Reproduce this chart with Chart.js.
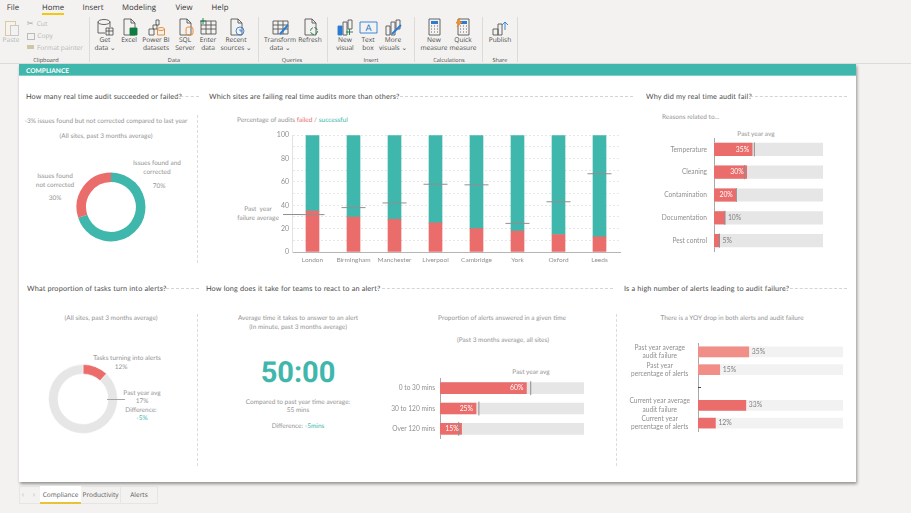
<!DOCTYPE html>
<html>
<head>
<meta charset="utf-8">
<script src="https://cdn.jsdelivr.net/npm/chart.js@4"></script>
<style>
html, body { margin: 0; padding: 0; width: 911px; height: 513px; overflow: hidden; background: #f3f2f1; font-family: Lato, sans-serif; text-rendering: geometricPrecision; }
#page { position: relative; width: 911px; height: 513px; }
#page div, #page canvas, #page svg { position: absolute; }
.t { white-space: nowrap; line-height: 10px; transform: translate(-50%, -50%); color: #949494; font-size: 6.5px; }
.l { transform: translate(0, -50%); }
.head { color: #4d4d4d; font-size: 7.3px; font-weight: 400; letter-spacing: .16px; }
.rib { font-family: "Open Sans", sans-serif; color: #4a4a4a; font-size: 6.6px; }
.tab { font-family: "Open Sans", sans-serif; color: #333; font-size: 7.8px; }
.dash-h { height: 0; border-top: 1px dashed #d4d4d4; }
.dash-v { width: 0; border-left: 1px dashed #dcdcdc; }
</style>
</head>
<body>
<div id="page"></div>
<script>
// chart values
var auditShare = [70, 30]
var siteNames = ['London', 'Birmingham', 'Manchester', 'Liverpool', 'Cambridge', 'York', 'Oxford', 'Leeds']
var siteFailed = [35, 30, 28, 25, 20, 18, 15, 13]
var siteSuccess = [65, 70, 72, 75, 80, 82, 85, 87]
var sitePastYear = [32, 38, 42, 58, 57.5, 24.5, 43, 67]
var siteTicks = [0, 20, 40, 60, 80, 100]

var reasonNames = ['Temperature', 'Cleaning', 'Contamination', 'Documentation', 'Pest control']
var reasonValues = [35, 30, 20, 10, 5]
var reasonPastYear = [37, 28, 20.5, 10, 5]
var reasonTrack = [100, 100, 100, 100, 100]

var alertShare = [12, 88]

var answerNames = ['0 to 30 mins', '30 to 120 mins', 'Over 120 mins']
var answerValues = [60, 25, 15]
var answerPastYear = [63, 27, 13]
var answerTrack = [100, 100, 100]

var yoyNames = [['Past year average', 'audit failure'], ['Past year', 'percentage of alerts'], '', ['Current year average', 'audit failure'], ['Current year', 'percentage of alerts']]
var yoyValues = [35, 15, null, 33, 12]
var yoyTrack = [100, 100, null, 100, 100]

var RED = '#ea6d6c', TEAL = '#40b7ac', TRACK = '#e6e6e6', PALE = '#f08e87', MARK = '#8f8f8f'
var page = document.getElementById('page')

function box(cls, x, y, w, h, css) {
    var d = document.createElement('div')
    d.className = cls || ''
    d.style.cssText = 'left:' + x + 'px;top:' + y + 'px;' + (w ? 'width:' + w + 'px;' : '') + (h ? 'height:' + h + 'px;' : '') + (css || '')
    page.appendChild(d)
    return d
}
function text(str, x, y, cls, css) {
    var d = box('t ' + (cls || ''), x, y, 0, 0, css)
    d.style.width = 'auto'
    d.style.height = 'auto'
    d.innerHTML = str
    return d
}

// report frame
box('', 19, 64, 837, 418, 'background:#fff;box-shadow:1px 2px 3px rgba(0,0,0,.4)')
box('', 0, 63, 911, 1, 'background:#dcdbda')
box('', 19, 64, 837, 12, 'background:#40b7ac;border-bottom:1px solid #7fd0c8;box-sizing:border-box')
text('COMPLIANCE', 26, 70.5, 'l', 'color:#fff;font-weight:700;font-size:6.6px')

// section headings
text('How many real time audit succeeded or failed?', 26, 97, 'l head')
text('Which sites are failing real time audits more than others?', 209, 97, 'l head')
text('Why did my real time audit fail?', 646, 97, 'l head')
text('What proportion of tasks turn into alerts?', 27, 289, 'l head')
text('How long does it take for teams to react to an alert?', 206, 289, 'l head')
text('Is a high number of alerts leading to audit failure?', 624, 289, 'l head')
;[[175, 96, 24], [395, 96, 238], [750, 96, 97], [161, 288, 38], [377, 288, 236], [785, 288, 62]].forEach(function (r) {
    box('dash-h', r[0], r[1], r[2])
})
;[[197, 115, 148], [197, 314, 152], [616, 314, 152]].forEach(function (r) {
    box('dash-v', r[0], r[1], 0, r[2])
})

// captions
var captions = [
    ['-3% issues found but not corrected compared to last year', 106, 122],
    ['(All sites, past 3 months average)', 106, 137],
    ['Issues found and', 157, 164], ['corrected', 157, 172.5], ['70%', 159, 187],
    ['Issues found', 55, 177], ['not corrected', 55, 186], ['30%', 55, 199],
    ['Past&nbsp; year', 258, 210], ['failure average', 258, 218.5],
    ['Past year avg', 756, 135],
    ['(All sites, past 3 months average)', 111, 319],
    ['Tasks turning into alerts', 127, 358.5], ['12%', 121, 368],
    ['Past year avg', 142, 394], ['17%', 142, 402], ['Difference:', 141, 411],
    ['<span style="color:#40b7ac">-5%</span>', 142, 419],
    ['Average time it takes to answer to an alert', 298, 319],
    ['(In minute, past 3 months average)', 298, 327.5],
    ['Compared to past year time average:', 298, 402.5], ['55 mins', 298, 411],
    ['Difference: <span style="color:#40b7ac">-5mins</span>', 298, 427],
    ['Proportion of alerts answered in a given time', 502, 319],
    ['(Past 3 months average, all sites)', 503, 341],
    ['Past year avg', 531, 373],
    ['There is a YOY drop in both alerts and audit failure', 732, 319]
]
captions.forEach(function (c) { text(c[0], c[1], c[2]) })
text('Percentage of audits <span style="color:#ea6d6c">failed</span> / <span style="color:#40b7ac">successful</span>', 237, 121, 'l')
text('Reasons related to…', 662, 118, 'l')
text('50:00', 298, 373, '', 'color:#40b7ac;font-family:Roboto,sans-serif;font-weight:700;font-size:29px;line-height:30px')

// ribbon
var tabs = [['File', 13], ['Home', 53], ['Insert', 93], ['Modeling', 139], ['View', 184], ['Help', 220]]
tabs.forEach(function (t) { text(t[0], t[1], 8, 'tab') })
box('', 42, 13, 22, 2, 'background:#f2c811')

function doc(extra) { return '<path d="M4 1h7l4 4v12H4z"/><path d="M11 1v4h4"/>' + extra }
var sheet = '<path d="M2 3h15v13H2zM2 7h15M2 11h15M7 3v13M12 3v13"/>'
var calc = '<path d="M4 1h11v16H4z"/><path d="M6 3h7v3H6z" fill="#2b7cd3" stroke="none"/><path d="M6 8h1M9 8h1M12 8h1M6 11h1M9 11h1M12 11h1M6 14h1M9 14h1M12 14h1"/>'
var ribbonButtons = [
    [105, ['Get', 'data ⌄'], '<ellipse cx="8" cy="4" rx="6" ry="2.5"/><path d="M2 4v11h7M14 4v5"/><path d="M10 10h7v7h-7zM10 13h7M13 10v7"/>'],
    [129, ['Excel'], doc('<path d="M10 10h7v7h-7z" fill="#107c41" stroke="#107c41"/>')],
    [156, ['Power BI', 'datasets'], '<path d="M2 11h5v6H2zM6 7h4v4H6zM9 2h3v5H9z"/><ellipse cx="14" cy="11" rx="3.5" ry="1.5" stroke="#e8842b"/><path d="M10.500 11v6h7v-6" stroke="#e8842b"/>'],
    [185, ['SQL', 'Server'], doc('<rect x="10" y="9" width="7" height="8" rx="2" stroke="#e8842b"/>')],
    [208, ['Enter', 'data'], sheet + '<path d="M1 3h6M4 0v6" stroke="#107c41"/>'],
    [236, ['Recent', 'sources ⌄'], doc('<circle cx="13" cy="13" r="4" stroke="#2b7cd3"/><path d="M13 11v2h2" stroke="#2b7cd3"/>')],
    [280, ['Transform', 'data ⌄'], sheet + '<path d="M9 16l8-9" stroke="#2b7cd3" stroke-width="2"/>'],
    [310, ['Refresh'], doc('<circle cx="13" cy="13" r="3.500" stroke="#107c41" stroke-dasharray="4 1.500"/>')],
    [345, ['New', 'visual'], '<path d="M2 8h4v9H2z" fill="#2b7cd3" stroke="#2b7cd3"/><path d="M7 4h4v13H7zM12 2h4v9h-4z"/><path d="M10 14h7M13.500 11v6" stroke="#107c41"/>'],
    [368, ['Text', 'box'], '<path d="M1 4h17v11H1z" stroke="#2b7cd3"/><text x="9.500" y="13" font-size="9" text-anchor="middle" fill="#2b7cd3" stroke="none">A</text>'],
    [393, ['More', 'visuals ⌄'], '<path d="M2 8h4v9H2zM7 4h4v13H7zM12 2h4v9h-4z"/><path d="M8 16l9-9" stroke="#2b7cd3" stroke-width="2"/>'],
    [434, ['New', 'measure'], calc],
    [463, ['Quick', 'measure'], calc + '<path d="M6 0L2 5h3l-2 4 5-5H5z" fill="#e8a22b" stroke="#e8842b"/>'],
    [500, ['Publish'], '<path d="M2 11h5v6H2zM7 6h4v11H7z"/><path d="M11 7l3-3 3 3M14 4v8" stroke="#2b7cd3"/>']
]
ribbonButtons.forEach(function (b) {
    var s = document.createElementNS('http://www.w3.org/2000/svg', 'svg')
    s.setAttribute('width', 19)
    s.setAttribute('height', 18)
    s.setAttribute('viewBox', '0 0 19 18')
    s.style.cssText = 'left:' + (b[0] - 9.5) + 'px;top:18px'
    s.innerHTML = '<g fill="none" stroke="#555" stroke-width=".9">' + b[2] + '</g>'
    page.appendChild(s)
    b[1].forEach(function (line, i) { text(line, b[0], 40 + i * 8, 'rib') })
})
text('Paste', 11, 40, 'rib', 'color:#b5b5b5')
box('', 5, 21, 9, 13, 'border:1px solid #d8c9a8;background:#f7f3ea')
box('', 10, 25, 7, 9, 'border:1px solid #c9c9c9;background:#f3f2f1')
text('Cut', 42, 24, 'rib', 'color:#b5b5b5')
text('Copy', 45, 36, 'rib', 'color:#b5b5b5')
text('Format painter', 60, 48, 'rib', 'color:#b5b5b5')
text('✂', 30, 24, 'rib', 'color:#aaa;font-size:8px')
box('', 27, 33, 6, 5, 'border:1px solid #bbb')
box('', 27, 45, 7, 4, 'background:#cfc6a8')
;[89, 258, 327, 414, 482, 517].forEach(function (x) { box('', x, 17, 1, 45, 'background:#dcdbda') })
;[['Clipboard', 46], ['Data', 174], ['Queries', 292], ['Insert', 371], ['Calculations', 449], ['Share', 500]].forEach(function (g) {
    text(g[0], g[1], 60, 'rib', 'font-size:5.6px')
})

// page tabs
box('', 19, 486, 139, 18, 'border:1px solid #e6e5e4;box-sizing:border-box')
box('', 40, 486, 41, 18, 'background:#fff;border-bottom:2px solid #e8c33a;box-sizing:border-box')
box('', 120, 486, 1, 18, 'background:#e6e5e4')
text('‹', 23, 495, 'tab', 'color:#bbb')
text('›', 34, 495, 'tab', 'color:#bbb')
text('Compliance', 60.5, 495, 'tab', 'font-size:6.5px;color:#555')
text('Productivity', 100.5, 495, 'tab', 'font-size:6.5px;color:#555')
text('Alerts', 139, 495, 'tab', 'font-size:6.5px;color:#555')

// puts a canvas on the page so the plot area lands at the given rectangle
function plotCanvas(left, top, right, bottom, marginL, marginB) {
    var c = document.createElement('canvas')
    c.width = right - left + marginL + 6
    c.height = bottom - top + marginB + 6
    c.style.cssText = 'left:' + (left - marginL) + 'px;top:' + (top - 6) + 'px'
    c.getContext('2d').textRendering = 'geometricPrecision'
    page.appendChild(c)
    return c
}

// value text on or next to the red bars
var valueLabels = {
    id: 'valueLabels',
    afterDatasetsDraw: function (chart, args, opts) {
        if (opts.dataset === undefined) return
        var ctx = chart.ctx
        var bars = chart.getDatasetMeta(opts.dataset).data
        var values = chart.data.datasets[opts.dataset].data
        ctx.save()
        ctx.font = '6.8px Lato'
        ctx.textBaseline = 'middle'
        bars.forEach(function (b, i) {
            if (values[i] === null) return
            if (values[i] >= opts.inside) {
                ctx.fillStyle = '#fff'
                ctx.textAlign = 'right'
                ctx.fillText(values[i] + '%', b.x - 3, b.y)
            } else {
                ctx.fillStyle = '#808080'
                ctx.textAlign = 'left'
                ctx.fillText(values[i] + '%', b.x + 3, b.y)
            }
        })
        ctx.restore()
    }
}

function hBarChart(rect, marginL, labels, values, track, past, thickness, trackColor, inside, fillColors, crossAlign, tickPad) {
    var sets = [
        { label: 'Value', data: values, backgroundColor: fillColors || RED, barThickness: thickness, grouped: false, order: 1 },
        { label: 'Track', data: track, backgroundColor: trackColor, barThickness: thickness, grouped: false, order: 2 }
    ]
    if (past) {
        sets.unshift({
            type: 'line', label: 'Past year avg', data: past, showLine: false, order: 0,
            pointStyle: 'line', rotation: 90, pointRadius: rect[4], pointBorderColor: MARK, pointBorderWidth: 1
        })
    }
    return new Chart(plotCanvas(rect[0], rect[1], rect[2], rect[3], marginL, 0), {
        type: 'bar',
        data: { labels: labels, datasets: sets },
        plugins: [valueLabels],
        options: {
            indexAxis: 'y',
            responsive: false,
            animation: false,
            layout: { autoPadding: false, padding: { top: 6, right: 6 } },
            plugins: { legend: { display: false }, tooltip: { enabled: false }, valueLabels: { dataset: past ? 1 : 0, inside: inside } },
            scales: {
                x: { display: false, min: 0, max: 100 },
                y: {
                    offset: true,
                    // the scale keeps label padding that would shrink the plot area
                    afterFit: function (s) { s.width = marginL; s.paddingTop = 0; s.paddingBottom = 0 },
                    border: { color: '#a8a8a8' },
                    grid: { drawOnChartArea: false, drawTicks: false },
                    ticks: { color: '#8f8f8f', font: { family: 'Lato', size: 6.6, lineHeight: 1.25 }, padding: tickPad, crossAlign: crossAlign || 'near', autoSkip: false }
                }
            }
        }
    })
}

// doughnuts
function ring(cx, cy, values, colors, spacing) {
    var c = document.createElement('canvas')
    c.width = 72
    c.height = 72
    c.style.cssText = 'left:' + (cx - 36) + 'px;top:' + (cy - 36) + 'px'
    page.appendChild(c)
    new Chart(c, {
        type: 'doughnut',
        data: { datasets: [{ data: values, backgroundColor: colors, borderWidth: spacing, borderColor: '#fff' }] },
        options: {
            responsive: false,
            animation: false,
            radius: 34.5,
            cutout: 26,
            plugins: { legend: { display: false }, tooltip: { enabled: false } }
        }
    })
}
ring(111, 207, auditShare, [TEAL, RED], 0)
ring(83, 399, alertShare, [RED, TRACK], 0.5)

// sites, stacked
new Chart(plotCanvas(292, 134, 620, 252, 22, 16), {
    type: 'bar',
    data: {
        labels: siteNames,
        datasets: [
            { type: 'line', label: 'Past year', data: sitePastYear, showLine: false, stack: 'past', order: 0, pointStyle: 'line', pointRadius: 12, pointBorderColor: MARK, pointBorderWidth: 1 },
            { label: 'Failed', data: siteFailed, backgroundColor: RED, barThickness: 13, stack: 'audits', order: 1 },
            { label: 'Successful', data: siteSuccess, backgroundColor: TEAL, barThickness: 13, stack: 'audits', order: 1 }
        ]
    },
    options: {
        responsive: false,
        animation: false,
        layout: { autoPadding: false, padding: { top: 6, right: 6 } },
        plugins: { legend: { display: false }, tooltip: { enabled: false } },
        scales: {
            x: {
                stacked: true,
                offset: true,
                afterFit: function (s) { s.height = 16 },
                border: { color: '#b5b5b5' },
                grid: { drawOnChartArea: false, drawTicks: false },
                ticks: { color: '#8f8f8f', font: { family: 'Lato', size: 6.5 }, padding: 4, maxRotation: 0, autoSkip: false }
            },
            y: {
                stacked: true,
                min: 0,
                max: 100,
                afterFit: function (s) { s.width = 22 },
                border: { color: '#e2e2e2', dash: [2, 2] },
                grid: { color: '#e8e8e8', drawTicks: false },
                ticks: {
                    stepSize: 10,
                    padding: 3,
                    color: '#8f8f8f',
                    font: { family: 'Lato', size: 7 },
                    callback: function (v) { return siteTicks.indexOf(v) >= 0 ? v : '' }
                }
            }
        }
    }
})

// reasons, answer time, year on year
hBarChart([714, 138, 823, 252, 7], 94, reasonNames, reasonValues, reasonTrack, reasonPastYear, 12.5, TRACK, 20, null, 'near', 7)
hBarChart([440, 378, 584, 439, 7], 60, answerNames, answerValues, answerTrack, answerPastYear, 11, TRACK, 15, null, 'near', 5)
hBarChart([698, 343, 843, 432, 0], 70, yoyNames, yoyValues, yoyTrack, null, 10, '#f2f2f2', 101, [PALE, PALE, RED, RED, RED], 'center', 8)

// leader lines and the small tick that sit over the charts
box('', 698, 387, 3, 1, 'background:#444')
box('', 107, 399, 18, 0, 'border-top:1px solid #a5a5a5')
box('', 283, 214, 18, 0, 'border-top:1px solid #8f8f8f')
</script>
</body>
</html>
